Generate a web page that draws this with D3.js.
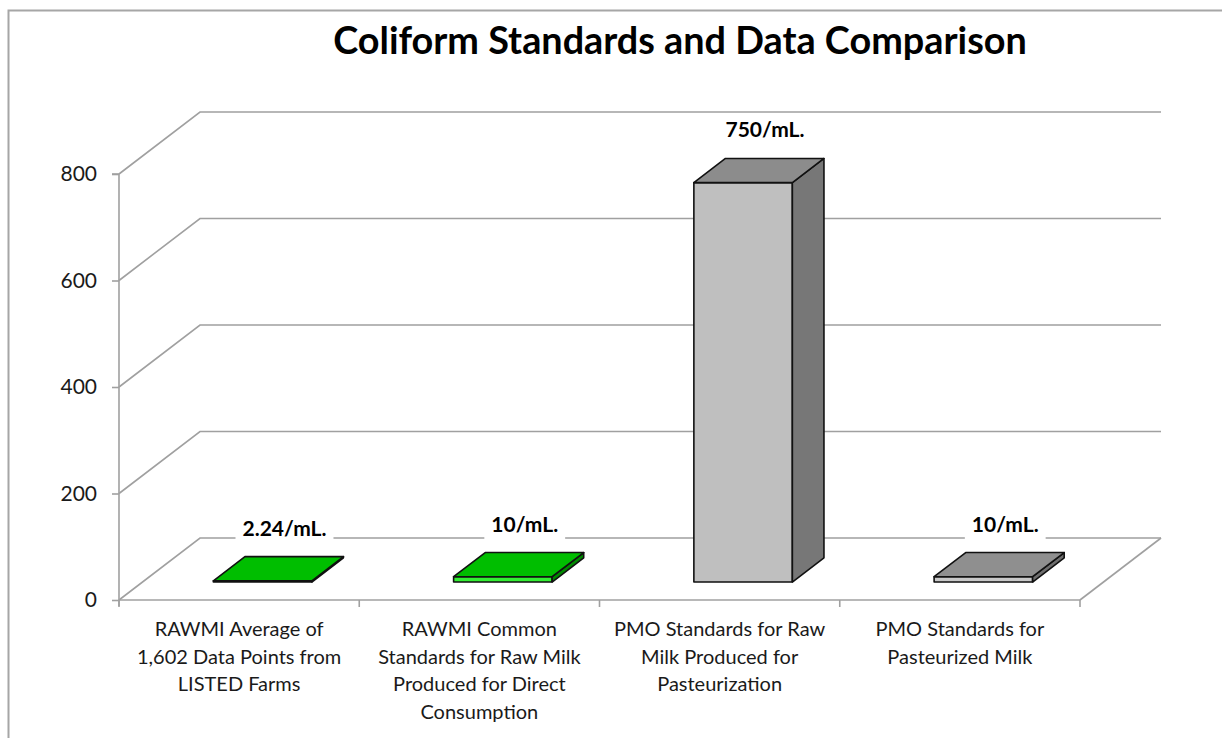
<!DOCTYPE html>
<html><head><meta charset="utf-8">
<script src="https://cdn.jsdelivr.net/npm/d3@7"></script>
<style>body{margin:0;background:#fff}svg{display:block}</style>
</head><body>
<svg id="c" width="1222" height="738"></svg>
<script>
// ---- data ----
const categories = [
  ["RAWMI Average of", "1,602 Data Points from", "LISTED Farms"],
  ["RAWMI Common", "Standards for Raw Milk", "Produced for Direct", "Consumption"],
  ["PMO Standards for Raw", "Milk Produced for", "Pasteurization"],
  ["PMO Standards for", "Pasteurized Milk"]
];
const values = [2.24, 10, 750, 10];
const valueLabels = ["2.24/mL.", "10/mL.", "750/mL.", "10/mL."];
const yTicks = [0, 200, 400, 600, 800];
const title = "Coliform Standards and Data Comparison";

// ---- styles ----
const faceTop   = ["#00BE00", "#00BE00", "#8C8C8C", "#8F8F8F"];
const faceFront = ["#33EE33", "#33EE33", "#BFBFBF", "#C8C8C8"];
const faceSide  = ["#008A00", "#008A00", "#777777", "#6E6E6E"];
const gridColor = "#a0a0a0";
const font = "Lato, 'Liberation Sans', sans-serif";

const svg = d3.select("#c");
// frame
svg.append("path").attr("d", "M8.5,740 L8.5,10.5 L1230,10.5")
  .attr("fill", "none").attr("stroke", "#a6a6a6").attr("stroke-width", 2);

const idx = categories.map((d, i) => i);
const x = d3.scaleBand().domain(idx).range([119, 1080]).paddingInner(0).paddingOuter(0);
const y = d3.scaleLinear().domain([0, 800]).range([600, 174]);
const dX = d3.scaleLinear().domain([0, 1]).range([0, 81]);
const dY = d3.scaleLinear().domain([0, 1]).range([0, -62]);
const barFrac = 0.41, z0 = 0.29, z1 = 0.68;

// gridlines on side and back walls
const g = svg.append("g");
yTicks.forEach(t => {
  const x0 = x.range()[0], yy = y(t);
  g.append("path")
    .attr("d", `M${x0},${yy} L${x0 + dX(1)},${yy + dY(1)} L${x.range()[1] + dX(1)},${yy + dY(1)}`)
    .attr("fill", "none").attr("stroke", gridColor).attr("stroke-width", 1.6);
});
// floor right edge
g.append("line").attr("x1", x.range()[1]).attr("y1", y(0))
  .attr("x2", x.range()[1] + dX(1)).attr("y2", y(0) + dY(1))
  .attr("stroke", gridColor).attr("stroke-width", 1.6);

// axes
const yAxis = d3.axisLeft(y).tickValues(yTicks).tickSize(7).tickPadding(15);
const ya = svg.append("g").attr("transform", `translate(${x.range()[0]},0)`).call(yAxis);
ya.select(".domain").attr("stroke", gridColor).attr("stroke-width", 1.6).attr("d", `M-7,${y(800)}H0V${y(0) + 6}`);
ya.selectAll(".tick line").attr("stroke", gridColor).attr("stroke-width", 1.6);
ya.selectAll(".tick text").attr("font-family", font).attr("font-size", 21).attr("fill", "#1a1a1a");

const xa = svg.append("g");
xa.append("line").attr("x1", x.range()[0]).attr("x2", x.range()[1]).attr("y1", y(0)).attr("y2", y(0))
  .attr("stroke", gridColor).attr("stroke-width", 1.6);
idx.concat([idx.length]).forEach(i => {
  const xx = i < idx.length ? x(i) : x.range()[1];
  xa.append("line").attr("x1", xx).attr("x2", xx).attr("y1", y(0)).attr("y2", y(0) + 7)
    .attr("stroke", gridColor).attr("stroke-width", 1.6);
});

// category labels
idx.forEach(i => {
  const t = svg.append("text").attr("font-family", font).attr("font-size", 20)
    .attr("fill", "#1a1a1a").attr("text-anchor", "middle");
  categories[i].forEach((line, k) => {
    t.append("tspan").attr("x", x(i) + x.bandwidth() / 2).attr("y", 636 + k * 27.5).text(line);
  });
});

// bars
const bars = svg.append("g");
values.forEach((v, i) => {
  const bw = x.bandwidth() * barFrac;
  const xl = x(i) + (x.bandwidth() - bw) / 2;
  const xr = xl + bw;
  const P = (xx, val, z) => [xx + dX(z), y(val) + dY(z)];
  const poly = pts => "M" + pts.map(p => p.join(",")).join("L") + "Z";
  const style = s => s.attr("stroke", "#111").attr("stroke-width", 1.6).attr("stroke-linejoin", "round");
  style(bars.append("path").attr("d", poly([P(xl, 0, z0), P(xr, 0, z0), P(xr, v, z0), P(xl, v, z0)])).attr("fill", faceFront[i]));
  style(bars.append("path").attr("d", poly([P(xr, 0, z0), P(xr, 0, z1), P(xr, v, z1), P(xr, v, z0)])).attr("fill", faceSide[i]));
  style(bars.append("path").attr("d", poly([P(xl, v, z0), P(xr, v, z0), P(xr, v, z1), P(xl, v, z1)])).attr("fill", faceTop[i]));
});

// value labels
values.forEach((v, i) => {
  const cx = x(i) + x.bandwidth() / 2 + dX(0.56);
  const by = y(v) + dY(z1) - 21;
  const gg = svg.append("g");
  const r = gg.append("rect").attr("fill", "#fff");
  const t = gg.append("text").attr("x", cx).attr("y", by).attr("text-anchor", "middle")
    .attr("font-family", font).attr("font-weight", "bold").attr("font-size", 21).attr("fill", "#000")
    .text(valueLabels[i]);
  const bb = t.node().getBBox();
  r.attr("x", bb.x - 7).attr("y", bb.y).attr("width", bb.width + 14).attr("height", bb.height + 6);
});

// title
const tt = svg.append("text").attr("x", 680).attr("y", 54).attr("text-anchor", "middle")
  .attr("font-family", font).attr("font-weight", "bold").attr("font-size", 35).attr("fill", "#000").text(title);
const w = tt.node().getComputedTextLength();
tt.attr("font-size", 35 * 694 / w);
</script>
</body></html>
